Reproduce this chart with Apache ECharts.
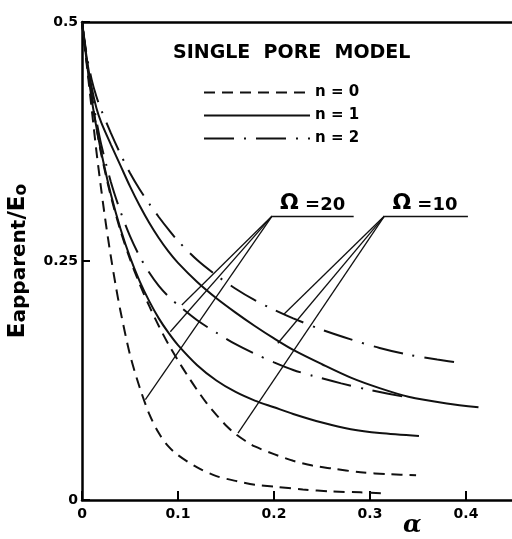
<!DOCTYPE html>
<html>
<head>
<meta charset="utf-8">
<script src="https://cdn.jsdelivr.net/npm/echarts@6/dist/echarts.min.js"></script>
<style>
  html, body { margin: 0; padding: 0; background: #fff; }
  #chart { width: 512px; height: 539px; }
</style>
</head>
<body>
<div id="chart"></div>
<script>
// curves, [alpha, Eapparent/Eo]
var dashed20 = [[0, 0.5], [0.005, 0.455], [0.01, 0.41], [0.015, 0.365], [0.02, 0.325], [0.025, 0.288],
  [0.03, 0.255], [0.035, 0.225], [0.04, 0.198], [0.05, 0.152], [0.06, 0.118], [0.07, 0.09],
  [0.08, 0.07], [0.09, 0.056], [0.10, 0.047], [0.12, 0.034], [0.14, 0.025], [0.16, 0.02],
  [0.18, 0.016], [0.20, 0.014], [0.23, 0.011], [0.26, 0.009], [0.29, 0.008], [0.315, 0.007]];
var dashed10 = [[0, 0.5], [0.005, 0.458], [0.01, 0.42], [0.015, 0.39], [0.02, 0.362], [0.03, 0.318],
  [0.04, 0.282], [0.05, 0.252], [0.06, 0.226], [0.07, 0.203], [0.08, 0.182], [0.09, 0.163],
  [0.10, 0.146], [0.11, 0.13], [0.12, 0.115], [0.13, 0.101], [0.14, 0.089], [0.15, 0.078],
  [0.16, 0.069], [0.17, 0.062], [0.18, 0.056], [0.20, 0.048], [0.22, 0.041], [0.24, 0.036],
  [0.26, 0.033], [0.29, 0.029], [0.32, 0.027], [0.348, 0.026]];
var solid20 = [[0, 0.5], [0.005, 0.458], [0.01, 0.42], [0.015, 0.39], [0.02, 0.364], [0.03, 0.32],
  [0.04, 0.284], [0.05, 0.254], [0.06, 0.229], [0.07, 0.208], [0.08, 0.19], [0.09, 0.175],
  [0.10, 0.162], [0.12, 0.141], [0.14, 0.125], [0.16, 0.113], [0.18, 0.104], [0.20, 0.097],
  [0.22, 0.09], [0.25, 0.081], [0.28, 0.074], [0.31, 0.07], [0.351, 0.067]];
var solid10 = [[0, 0.5], [0.005, 0.462], [0.01, 0.432], [0.015, 0.41], [0.02, 0.395], [0.03, 0.372],
  [0.04, 0.35], [0.05, 0.328], [0.06, 0.308], [0.07, 0.29], [0.08, 0.274], [0.09, 0.26],
  [0.10, 0.248], [0.12, 0.228], [0.14, 0.211], [0.16, 0.196], [0.18, 0.182], [0.20, 0.169],
  [0.22, 0.157], [0.25, 0.142], [0.28, 0.128], [0.31, 0.117], [0.34, 0.108], [0.38, 0.101],
  [0.413, 0.097]];
var dashDot20 = [[0, 0.5], [0.005, 0.46], [0.01, 0.425], [0.015, 0.397], [0.02, 0.372], [0.03, 0.333],
  [0.04, 0.302], [0.05, 0.276], [0.06, 0.255], [0.07, 0.238], [0.08, 0.224], [0.09, 0.213],
  [0.10, 0.204], [0.12, 0.188], [0.14, 0.175], [0.16, 0.163], [0.18, 0.153], [0.20, 0.144],
  [0.22, 0.136], [0.24, 0.13], [0.27, 0.122], [0.30, 0.115], [0.341, 0.107]];
var dashDot10 = [[0, 0.5], [0.005, 0.465], [0.01, 0.44], [0.015, 0.422], [0.02, 0.408], [0.03, 0.384],
  [0.04, 0.362], [0.05, 0.342], [0.06, 0.325], [0.07, 0.31], [0.08, 0.296], [0.09, 0.283],
  [0.10, 0.271], [0.12, 0.251], [0.14, 0.235], [0.16, 0.221], [0.18, 0.209], [0.20, 0.199],
  [0.22, 0.19], [0.25, 0.178], [0.28, 0.168], [0.31, 0.159], [0.34, 0.152], [0.37, 0.147],
  [0.397, 0.143]];

var legendNames = ['n = 0', 'n = 1', 'n = 2'];

// omega labels: leader apex, end of underline, and where each leader meets its curve
var omega20Apex = [0.198, 0.297];
var omega20End = [0.283, 0.297];
var omega20Targets = [[0.104, 0.204], [0.092, 0.176], [0.066, 0.105]];
var omega10Apex = [0.315, 0.297];
var omega10End = [0.402, 0.297];
var omega10Targets = [[0.210, 0.194], [0.204, 0.164], [0.1625, 0.070]];

var FONT = 'DejaVu Sans';
var dashPat = [11, 7];
var dashDotPat = [30, 10, 2, 10];

function curve(name, data, type) {
  return {
    name: name,
    type: 'line',
    data: data,
    symbol: 'none',
    smooth: 0.3,
    silent: true,
    itemStyle: { color: '#111' },
    lineStyle: { color: '#111', width: 2, type: type }
  };
}

function omegaLines(apex, end, targets, txt) {
  var rows = targets.map(function (t) {
    return [{ coord: apex }, { coord: t }];
  });
  rows.push([{
    coord: apex,
    label: {
      show: true,
      position: 'insideStartTop',
      distance: 2,
      padding: [0, 0, 0, 6],
      formatter: '{o|Ω}{t| =' + txt + '}',
      rich: {
        o: { fontFamily: FONT, fontWeight: 'bold', fontSize: 22, color: '#000', verticalAlign: 'bottom' },
        t: { fontFamily: FONT, fontWeight: 'bold', fontSize: 18, color: '#000', verticalAlign: 'bottom' }
      }
    }
  }, { coord: end }]);
  return rows;
}

var series = [
  curve('n = 0', dashed20, dashPat),
  curve('n = 0', dashed10, dashPat),
  curve('n = 1', solid20, 'solid'),
  curve('n = 1', solid10, 'solid'),
  curve('n = 2', dashDot20, dashDotPat),
  curve('n = 2', dashDot10, dashDotPat)
];
series[0].markLine = {
  silent: true,
  symbol: 'none',
  animation: false,
  label: { show: false },
  lineStyle: { color: '#111', width: 1.3, type: 'solid' },
  data: omegaLines(omega20Apex, omega20End, omega20Targets, '20')
    .concat(omegaLines(omega10Apex, omega10End, omega10Targets, '10'))
};

var tickFmt = function (v) { return v === 0 ? '0' : String(+v.toFixed(2)); };

var chart = echarts.init(document.getElementById('chart'));
chart.setOption({
  animation: false,
  backgroundColor: '#fff',
  title: {
    text: 'SINGLE  PORE  MODEL',
    left: 173,
    top: 44,
    padding: 0,
    textStyle: { fontFamily: FONT, fontWeight: 'bold', fontSize: 19, color: '#000' }
  },
  legend: {
    data: legendNames,
    orient: 'vertical',
    left: 203,
    top: 85,
    padding: 0,
    itemWidth: 106,
    itemHeight: 12,
    itemGap: 8,
    selectedMode: false,
    itemStyle: { opacity: 0 },
    textStyle: { fontFamily: FONT, fontWeight: 'bold', fontSize: 15, color: '#000' }
  },
  grid: { left: 82, top: 22, width: 432, height: 478, outerBoundsMode: 'none', containLabel: false },
  xAxis: [{
    type: 'value',
    min: 0,
    max: 0.45,
    interval: 0.1,
    splitLine: { show: false },
    axisLine: { lineStyle: { color: '#000', width: 2.5 } },
    axisTick: { inside: true, length: 9, lineStyle: { color: '#000', width: 2 } },
    axisLabel: {
      margin: 7,
      showMaxLabel: false,
      fontFamily: FONT, fontWeight: 'bold', fontSize: 14, color: '#000',
      formatter: tickFmt
    }
  }, {
    type: 'value',
    position: 'top',
    min: 0,
    max: 0.45,
    axisLine: { show: true, lineStyle: { color: '#000', width: 2.5 } },
    axisTick: { show: false },
    axisLabel: { show: false },
    splitLine: { show: false }
  }],
  yAxis: {
    type: 'value',
    min: 0,
    max: 0.5,
    interval: 0.25,
    splitLine: { show: false },
    axisLine: { show: true, lineStyle: { color: '#000', width: 2.5 } },
    axisTick: { show: true, inside: true, length: 8, lineStyle: { color: '#000', width: 2 } },
    axisLabel: {
      margin: 4,
      fontFamily: FONT, fontWeight: 'bold', fontSize: 14, color: '#000',
      formatter: tickFmt
    },
    name: '{e|E}{s|apparent}{e|/E}{o|o}',
    nameLocation: 'middle',
    nameRotate: 90,
    nameGap: 52,
    nameTextStyle: {
      rich: {
        e: { fontFamily: FONT, fontWeight: 'bold', fontSize: 23, color: '#000', verticalAlign: 'bottom' },
        s: { fontFamily: FONT, fontWeight: 'bold', fontSize: 20, color: '#000', verticalAlign: 'bottom' },
        o: { fontFamily: FONT, fontWeight: 'bold', fontSize: 17, color: '#000', verticalAlign: 'bottom' }
      }
    }
  },
  graphic: [{
    type: 'text',
    left: 403,
    top: 514,
    style: { text: 'α', font: 'italic bold 24px "DejaVu Serif"', fill: '#000' }
  }],
  series: series
});
</script>
</body>
</html>
